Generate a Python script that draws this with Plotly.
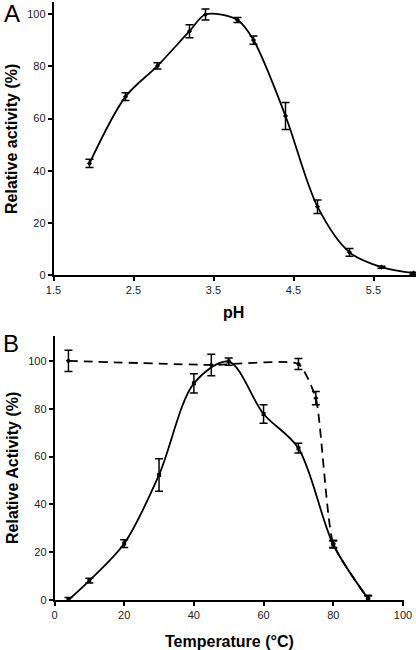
import plotly.graph_objects as go

# Panel A: pH profile
ph = [1.95, 2.4, 2.8, 3.2, 3.4, 3.8, 4.0, 4.4, 4.8, 5.2, 5.6, 6.0]
ph_act = [42.8, 68.4, 80.2, 93.5, 99.9, 97.8, 90.1, 61.0, 26.2, 8.7, 3.0, 0.7]
ph_err = [1.6, 1.5, 1.2, 2.5, 2.1, 1.0, 1.6, 5.2, 2.6, 1.5, 0.4, 0.4]

# Panel B: temperature profile (activity, solid)
temp = [4, 10, 20, 30, 40, 50, 60, 70, 80, 90]
temp_act = [0.0, 8.1, 23.6, 52.3, 90.6, 99.7, 77.8, 63.5, 23.2, 0.5]
temp_err = [1.0, 1.0, 1.6, 6.8, 4.0, 1.5, 3.9, 2.0, 1.5, 1.2]

# Panel B: thermostability (dashed)
stab_t = [4, 45, 70, 75, 80, 90]
stab_act = [100.0, 98.3, 98.7, 84.4, 23.5, 0.5]
stab_err = [4.4, 4.5, 2.3, 2.8, 1.5, 1.5]

W, H = 416, 650
def px(x): return x / W
def py(y): return 1 - y / H

fig = go.Figure()

eb = dict(type="data", visible=True, color="black", thickness=1.5, width=4)

fig.add_trace(go.Scatter(
    x=ph, y=ph_act, error_y=dict(array=ph_err, **eb),
    mode="lines+markers", line=dict(color="black", width=1.8, shape="spline", smoothing=0.9),
    marker=dict(symbol="diamond", size=4, color="black"),
    xaxis="x", yaxis="y", showlegend=False))

fig.add_trace(go.Scatter(
    x=stab_t, y=stab_act, error_y=dict(array=stab_err, **eb),
    mode="lines+markers", line=dict(color="black", width=1.8, dash="9px,6px", shape="spline", smoothing=0.5),
    marker=dict(symbol="diamond", size=4, color="black"),
    xaxis="x2", yaxis="y2", showlegend=False))

fig.add_trace(go.Scatter(
    x=temp, y=temp_act, error_y=dict(array=temp_err, **eb),
    mode="lines+markers", line=dict(color="black", width=1.8, shape="spline", smoothing=0.9),
    marker=dict(symbol="square", size=4, color="black"),
    xaxis="x2", yaxis="y2", showlegend=False))

tickfont = dict(family="Liberation Sans, Arial, sans-serif", size=11, color="#222")
axcommon = dict(showline=True, linecolor="black", linewidth=1.5, ticks="outside",
                ticklen=4, tickwidth=1.5, tickcolor="black", showgrid=False,
                zeroline=False, tickfont=tickfont, automargin=False)

fig.update_layout(
    width=W, height=H, margin=dict(l=0, r=0, t=0, b=0), autosize=False,
    paper_bgcolor="white", plot_bgcolor="white",
    xaxis=dict(domain=[px(53.5), 1.0], range=[1.5, 1.5 + (416 - 53.5) / 80],
               tick0=1.5, dtick=1, anchor="y", **axcommon),
    yaxis=dict(domain=[py(275), py(2)], range=[0, 104.7], tick0=0, dtick=20,
               anchor="x", **axcommon),
    xaxis2=dict(domain=[px(54.5), px(404)], range=[0, 100.3], tick0=0, dtick=20,
                anchor="y2", **axcommon),
    yaxis2=dict(domain=[py(600), py(336)], range=[0, 110.4], tick0=0, dtick=20,
                anchor="x2", **axcommon),
)

titlefont = dict(family="Liberation Sans, Arial, sans-serif", size=16, color="black")
ann = [
    dict(text="A", x=px(2), y=py(14), xanchor="left", yanchor="middle",
         font=dict(family="Liberation Sans, Arial, sans-serif", size=24, color="black")),
    dict(text="B", x=px(1), y=py(343), xanchor="left", yanchor="middle",
         font=dict(family="Liberation Sans, Arial, sans-serif", size=24, color="black")),
    dict(text="<b>Relative activity (%)</b>", x=px(12), y=py(139), textangle=-90,
         xanchor="center", yanchor="middle", font=titlefont),
    dict(text="<b>Relative Activity (%)</b>", x=px(12), y=py(468), textangle=-90,
         xanchor="center", yanchor="middle", font=titlefont),
    dict(text="<b>pH</b>", x=px(233), y=py(312), xanchor="center", yanchor="middle",
         font=titlefont),
    dict(text="<b>Temperature (°C)</b>", x=px(229), y=py(641), xanchor="center",
         yanchor="middle", font=titlefont),
]
for a in ann:
    a.update(xref="paper", yref="paper", showarrow=False)
fig.update_layout(annotations=ann)

fig.write_html("out.html", config={"responsive": False, "displayModeBar": False},
               post_script="document.body.style.margin='0';document.body.style.padding='0';document.body.style.overflow='hidden';")
